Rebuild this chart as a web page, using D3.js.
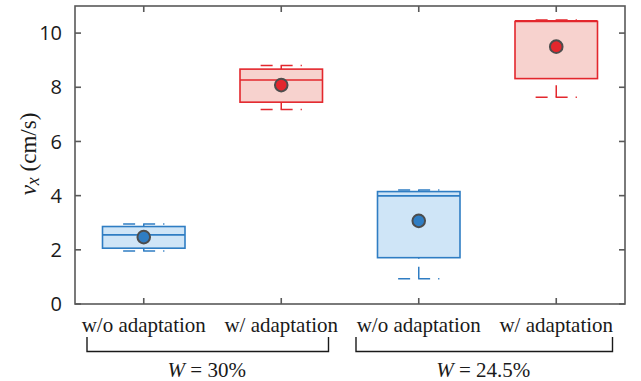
<!DOCTYPE html>
<html>
<head>
<meta charset="utf-8">
<script src="https://cdn.jsdelivr.net/npm/d3@7"></script>
<style>
  body { margin: 0; background: #fff; }
  svg { display: block; }
</style>
</head>
<body>
<div id="chart"></div>
<script>
// box statistics (cm/s)
var conditions = ["w/o adaptation", "w/ adaptation", "w/o adaptation", "w/ adaptation"];
var groups = ["W = 30%", "W = 24.5%"];
var lowCap  = [1.96, 7.18, 0.93, 7.63];
var q1      = [2.06, 7.45, 1.71, 8.32];
var median  = [2.55, 8.27, 3.99, 10.45];
var q3      = [2.86, 8.67, 4.15, 10.43];
var highCap = [2.95, 8.80, 4.21, 10.48];
var means   = [2.47, 8.08, 3.07, 9.50];
var yTicks  = [0, 2, 4, 6, 8, 10];

var width = 641, height = 381;
var margin = { top: 6, right: 16, bottom: 77, left: 75 };

var colors = {
  blue: { stroke: "#2f7dc3", fill: "#cfe5f7" },
  red:  { stroke: "#e3272d", fill: "#f7d2ce" }
};
var palette = [colors.blue, colors.red, colors.blue, colors.red];

var serif = "Liberation Serif";
var sans = "Open Sans";

var svg = d3.select("#chart").append("svg")
  .attr("width", width)
  .attr("height", height);

var x = d3.scaleLinear().domain([0.5, 4.5]).range([margin.left, width - margin.right]);
var y = d3.scaleLinear().domain([0, 11]).range([height - margin.bottom, margin.top]);

var boxW = x(1.3) - x(0.7);
var capW = boxW / 2;

// boxes
var boxes = conditions.map(function (c, i) {
  return { pos: i + 1, lo: lowCap[i], q1: q1[i], med: median[i], q3: q3[i], hi: highCap[i], mean: means[i], col: palette[i] };
});

var g = svg.append("g");

boxes.forEach(function (b) {
  var cx = x(b.pos);
  var bg = g.append("g");

  // whiskers: dashed, drawn from the cap towards the box
  bg.append("line")
    .attr("x1", cx).attr("x2", cx)
    .attr("y1", y(b.lo)).attr("y2", y(b.q1))
    .attr("stroke", b.col.stroke).attr("stroke-width", 1.5)
    .attr("stroke-dasharray", "12 8");
  bg.append("line")
    .attr("x1", cx).attr("x2", cx)
    .attr("y1", y(b.hi)).attr("y2", y(b.q3))
    .attr("stroke", b.col.stroke).attr("stroke-width", 1.5)
    .attr("stroke-dasharray", "12 8");

  // caps
  [b.lo, b.hi].forEach(function (v) {
    bg.append("line")
      .attr("x1", cx - capW / 2).attr("x2", cx + capW / 2)
      .attr("y1", y(v)).attr("y2", y(v))
      .attr("stroke", b.col.stroke).attr("stroke-width", 1.5)
      .attr("stroke-dasharray", "12 8");
  });

  var top = Math.max(b.q1, b.q3), bot = Math.min(b.q1, b.q3);
  bg.append("rect")
    .attr("x", cx - boxW / 2)
    .attr("y", y(top))
    .attr("width", boxW)
    .attr("height", y(bot) - y(top))
    .attr("fill", b.col.fill)
    .attr("stroke", b.col.stroke)
    .attr("stroke-width", 1.6);

  bg.append("line")
    .attr("x1", cx - boxW / 2).attr("x2", cx + boxW / 2)
    .attr("y1", y(b.med)).attr("y2", y(b.med))
    .attr("stroke", b.col.stroke).attr("stroke-width", 1.6);

  bg.append("circle")
    .attr("cx", cx).attr("cy", y(b.mean))
    .attr("r", 6.3)
    .attr("fill", b.col.stroke)
    .attr("stroke", "#4d4d4d")
    .attr("stroke-width", 2);
});

// axes frame with inward ticks
var axisColor = "#595959";
var tickLen = 6;
var x0 = x.range()[0], x1 = x.range()[1], y0 = y.range()[0], y1 = y.range()[1];

var frame = svg.append("g");
frame.append("rect")
  .attr("x", x0).attr("y", y1)
  .attr("width", x1 - x0).attr("height", y0 - y1)
  .attr("fill", "none").attr("stroke", axisColor).attr("stroke-width", 1.6);

yTicks.forEach(function (t) {
  frame.append("line").attr("x1", x0).attr("x2", x0 + tickLen).attr("y1", y(t)).attr("y2", y(t))
    .attr("stroke", axisColor).attr("stroke-width", 1.6);
  frame.append("line").attr("x1", x1).attr("x2", x1 - tickLen).attr("y1", y(t)).attr("y2", y(t))
    .attr("stroke", axisColor).attr("stroke-width", 1.6);
  frame.append("text")
    .attr("x", x0 - 13).attr("y", y(t))
    .attr("dy", "0.36em")
    .attr("text-anchor", "end")
    .style("font-family", sans)
    .style("font-size", "20px")
    .attr("fill", "#1a1a1a")
    .text(t);
});

boxes.forEach(function (b) {
  frame.append("line").attr("x1", x(b.pos)).attr("x2", x(b.pos)).attr("y1", y0).attr("y2", y0 - tickLen)
    .attr("stroke", axisColor).attr("stroke-width", 1.6);
  frame.append("line").attr("x1", x(b.pos)).attr("x2", x(b.pos)).attr("y1", y1).attr("y2", y1 + tickLen)
    .attr("stroke", axisColor).attr("stroke-width", 1.6);
});

// category labels
conditions.forEach(function (c, i) {
  svg.append("text")
    .attr("x", x(i + 1)).attr("y", 331.5)
    .attr("text-anchor", "middle")
    .style("font-family", serif)
    .style("font-size", "21px")
    .attr("fill", "#1a1a1a")
    .text(c);
});

// group brackets
var brackets = [[87, 328.5], [356, 612.5]];
groups.forEach(function (gname, i) {
  var bx = brackets[i];
  svg.append("path")
    .attr("d", "M" + bx[0] + ",337V351.5H" + bx[1] + "V337")
    .attr("fill", "none")
    .attr("stroke", "#1a1a1a")
    .attr("stroke-width", 1.4);
  var parts = gname.split(" = ");
  var t = svg.append("text")
    .attr("x", (bx[0] + bx[1]) / 2 - 1)
    .attr("y", 376.5)
    .attr("text-anchor", "middle")
    .style("font-family", serif)
    .style("font-size", "21px")
    .attr("fill", "#1a1a1a");
  t.append("tspan").style("font-style", "italic").text(parts[0]);
  t.append("tspan").text(" = " + parts[1]);
});

// y label: v_x (cm/s)
var yl = svg.append("text")
  .attr("transform", "translate(36,154) rotate(-90)")
  .attr("text-anchor", "middle")
  .style("font-family", serif)
  .style("font-size", "23px")
  .attr("fill", "#1a1a1a");
yl.append("tspan").style("font-style", "italic").text("v");
yl.append("tspan").style("font-style", "italic").style("font-size", "18px").attr("dy", 3).text("x");
yl.append("tspan").attr("dy", -3).text(" (cm/s)");
</script>
</body>
</html>
